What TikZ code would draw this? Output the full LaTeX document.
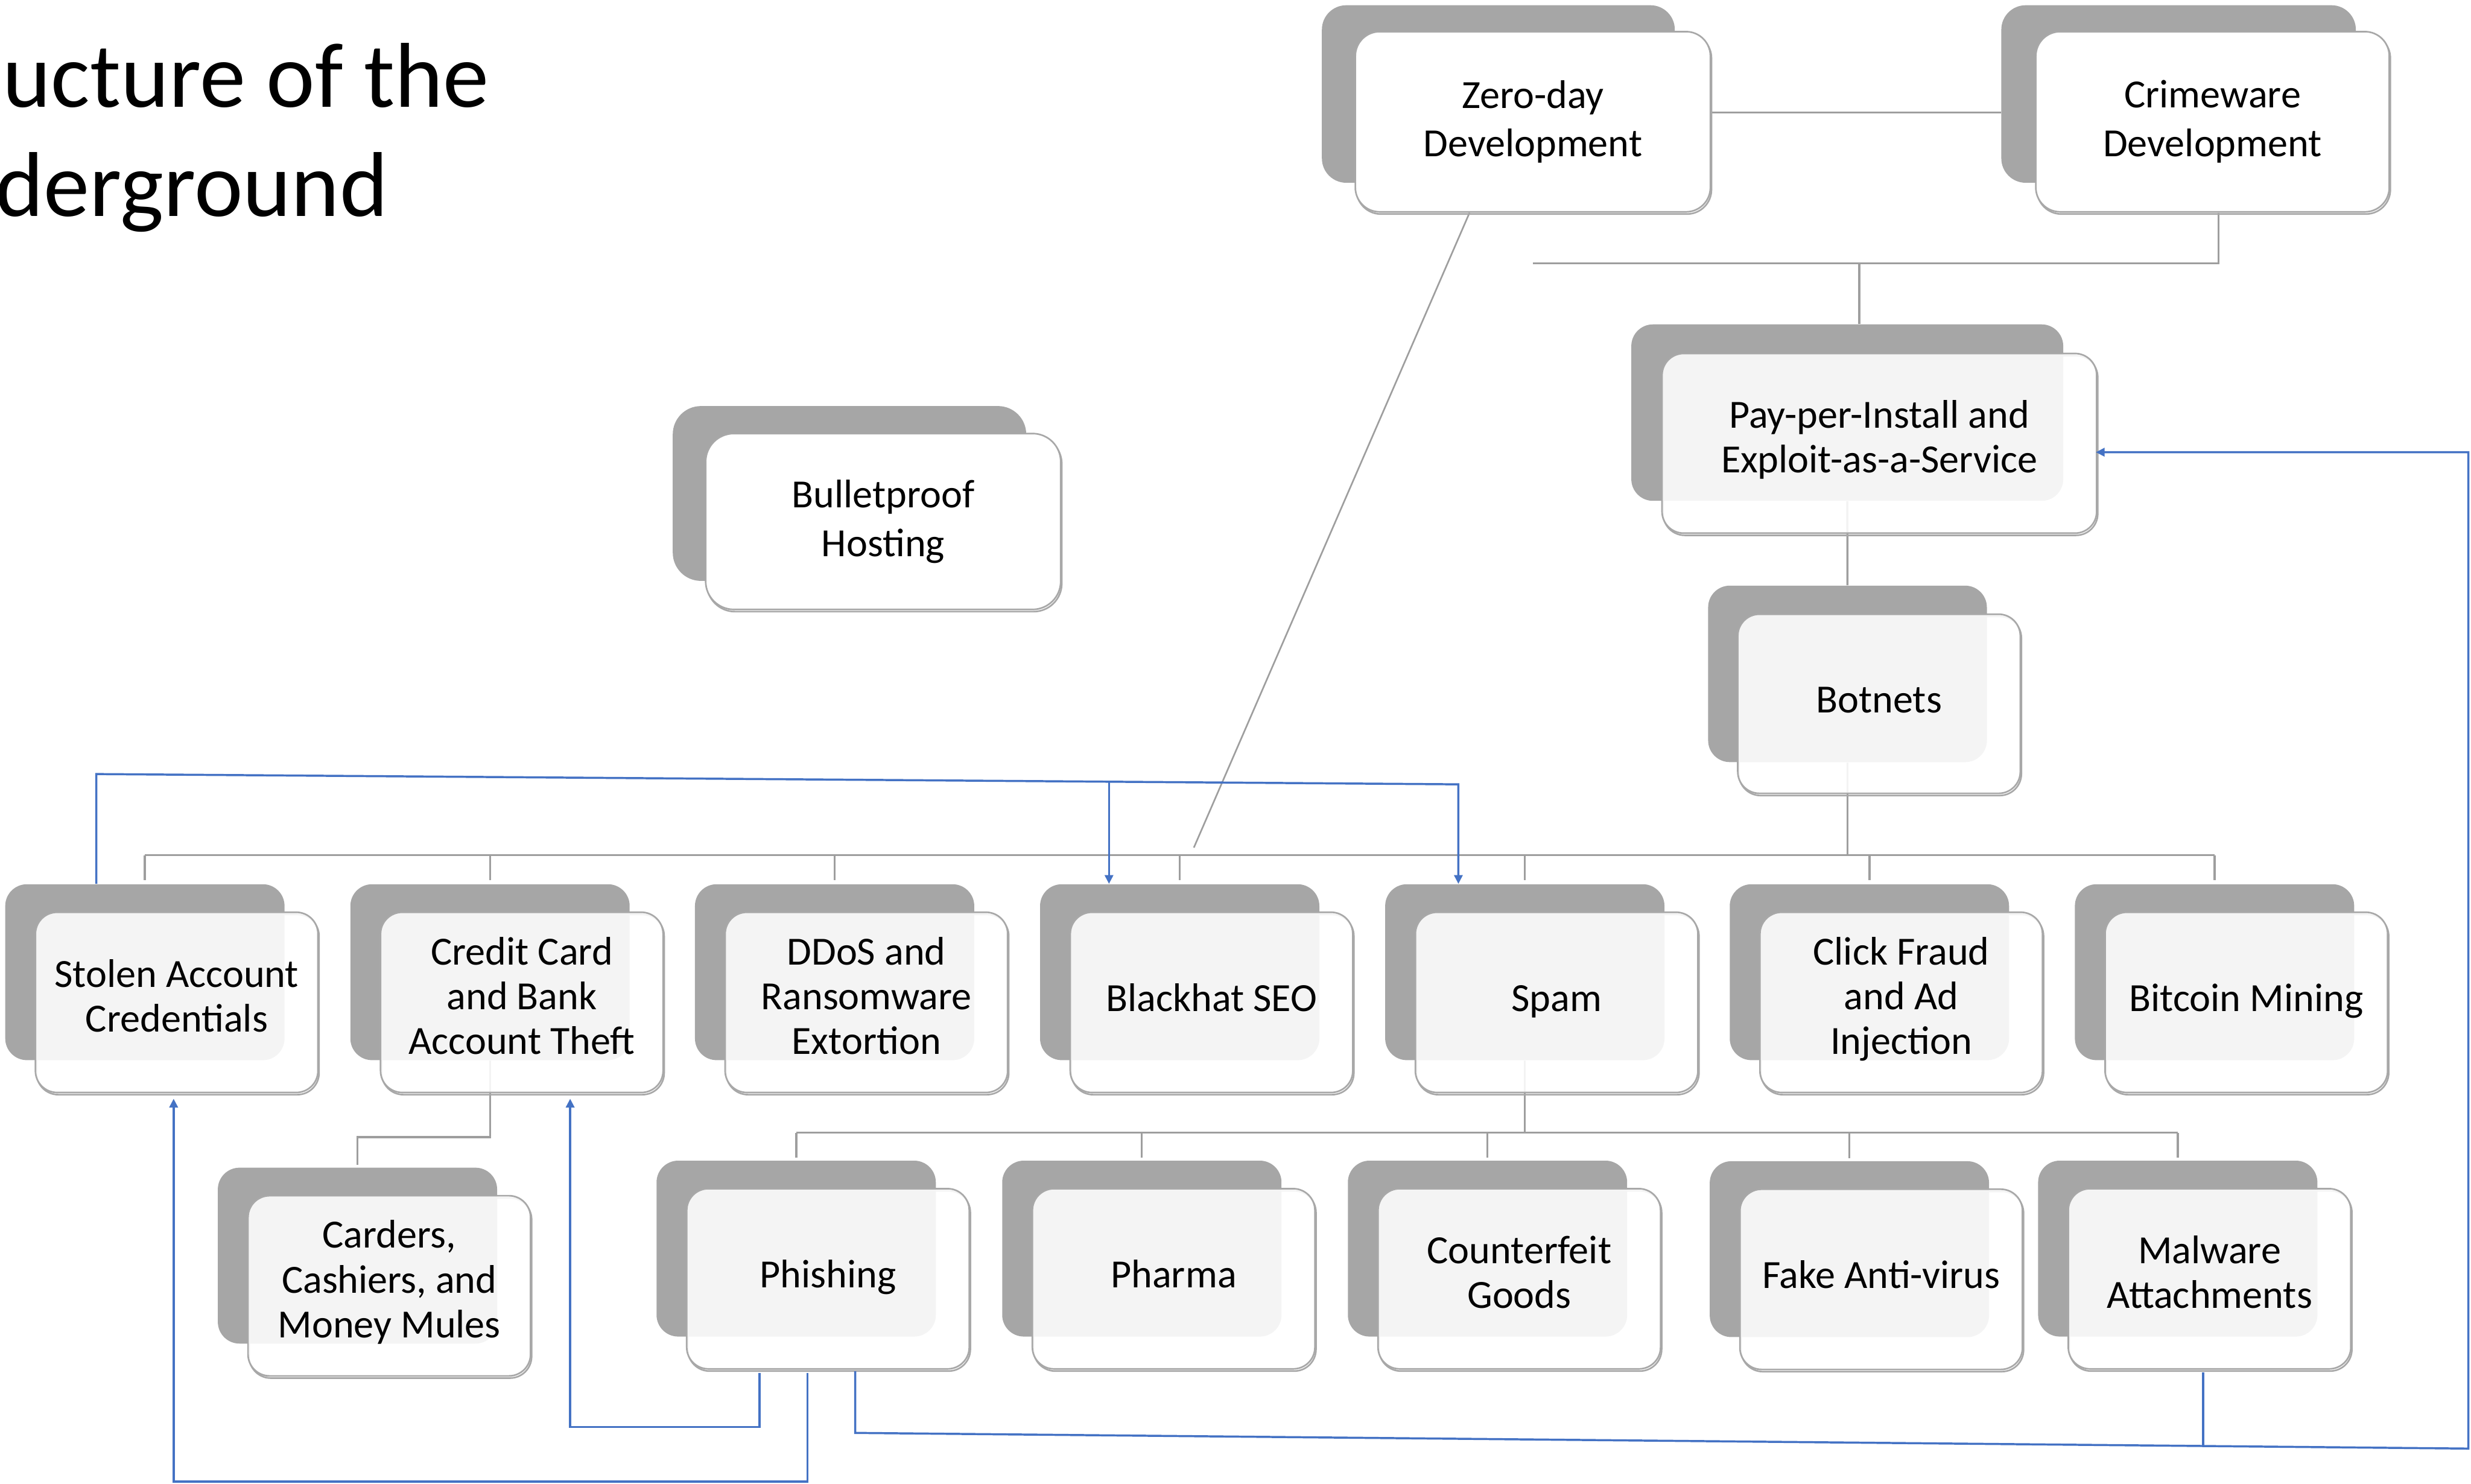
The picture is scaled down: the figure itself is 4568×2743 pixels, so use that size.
\documentclass[tikz,border=0pt]{standalone}
\usepackage{fontspec}
\setmainfont{Carlito}
\usetikzlibrary{calc,arrows.meta}

\definecolor{backgray}{HTML}{A6A6A6}
\definecolor{edgegray}{HTML}{A8A8A8}
\definecolor{conngray}{HTML}{9E9E9E}
\definecolor{linkblue}{HTML}{4472C4}

\pgfdeclarelayer{fore}
\pgfsetlayers{main,fore}

\newcommand\boxfont{\fontsize{21}{23.6}\selectfont}
\newcommand\topfont{\fontsize{21}{25.6}\selectfont}
\newcommand\titlefont{\fontsize{48.4}{57}\selectfont}

\tikzset{
  backbox/.style={fill=backgray, draw=none, rounded corners=0.4cm, anchor=north west,
    inner sep=0pt, minimum width=5.16cm, minimum height=3.25cm},
  cardbase/.style={draw=edgegray, line width=0.85pt, fill=white,
    text opacity=1, rounded corners=0.4cm, anchor=north west, inner sep=0pt,
    minimum width=5.22cm, minimum height=3.33cm, align=center},
  frontbox/.style={cardbase, fill opacity=0.88, font=\boxfont,
    execute at begin node=\strut, execute at end node=\strut},
  solidfront/.style={cardbase, fill opacity=1, font=\topfont},
  edgeshadow/.style={draw=edgegray, line width=0.85pt, rounded corners=0.4cm,
    anchor=north west, inner sep=0pt, minimum width=5.22cm, minimum height=3.33cm},
  tree/.style={draw=conngray, line width=1.1pt},
  link/.style={draw=linkblue, line width=1.1pt},
  tip/.style={-{Triangle[length=4.6pt,width=4.4pt]}},
}

% a grey card with a white card laid over it
\newcommand\cardpair[4]{%
  \node[backbox] (#1B) at (#2,#3) {};
  \begin{pgfonlayer}{fore}
    \node[edgeshadow] (#1S) at ($(#1B.north west)+(57,55)$) {};
    \node[frontbox] (#1) at ($(#1B.north west)+(55,51)$) {#4};
  \end{pgfonlayer}}

\begin{document}
\begin{tikzpicture}[x=0.01cm, y=-0.01cm]
\useasboundingbox (0,0) rectangle (4568,2743);

% heading
\node[anchor=base east, font=\titlefont, inner sep=0pt] (title1) at (905,198) {ucture of the};
\node[anchor=base east, font=\titlefont, inner sep=0pt] (title2) at (718,400) {derground};

% top cards
\node[backbox, minimum width=6.52cm, minimum height=3.28cm, rounded corners=0.45cm] (zdB) at (2443,9) {};
\node[backbox, minimum width=6.55cm, minimum height=3.28cm, rounded corners=0.45cm] (cwB) at (3699,9) {};
\node[backbox, minimum width=7.98cm, minimum height=3.26cm] (ppiB) at (3015,599) {};
\node[backbox, minimum width=5.15cm, minimum height=3.26cm] (botB) at (3157,1082) {};
\node[backbox, minimum width=6.53cm, minimum height=3.23cm, rounded corners=0.52cm] (bphB) at (1243,750) {};
\begin{pgfonlayer}{fore}
  \node[edgeshadow, minimum width=6.56cm, rounded corners=0.45cm] (zdS) at (2506,61) {};
  \node[solidfront, minimum width=6.56cm, rounded corners=0.45cm] (zd) at (2504,57) {Zero-day\\Development};
  \node[edgeshadow, minimum width=6.53cm, rounded corners=0.45cm] (cwS) at (3764,61) {};
  \node[solidfront, minimum width=6.53cm, rounded corners=0.45cm] (cw) at (3762,57) {Crimeware\\Development};
  \node[edgeshadow, minimum width=8.03cm, minimum height=3.32cm] (ppiS) at (3073,656) {};
  \node[frontbox, minimum width=8.03cm, minimum height=3.32cm] (ppi) at (3071,652) {Pay-per-Install and\\Exploit-as-a-Service};
  \node[edgeshadow, minimum height=3.31cm] (botS) at (3213,1138) {};
  \node[frontbox, minimum height=3.31cm] (bot) at (3211,1134) {Botnets};
  \node[edgeshadow, minimum width=6.56cm, minimum height=3.25cm, rounded corners=0.52cm] (bphS) at (1305,804) {};
  \node[solidfront, minimum width=6.56cm, minimum height=3.25cm, rounded corners=0.52cm] (bph) at (1303,800) {Bulletproof\\Hosting};
\end{pgfonlayer}

% services row
\cardpair{stolen}{9}{1634}{Stolen Account\\Credentials}
\cardpair{credit}{647}{1634}{Credit Card\\and Bank\\Account Theft}
\cardpair{ddos}{1284}{1634}{DDoS and\\Ransomware\\Extortion}
\cardpair{seo}{1922}{1634}{Blackhat SEO}
\cardpair{spam}{2560}{1634}{Spam}
\cardpair{click}{3197}{1634}{Click Fraud\\and Ad\\Injection}
\cardpair{bitcoin}{3835}{1634}{Bitcoin Mining}

% lower row
\cardpair{carders}{402}{2158}{Carders,\\Cashiers, and\\Money Mules}
\cardpair{phish}{1213}{2145}{Phishing}
\cardpair{pharma}{1852}{2145}{Pharma}
\cardpair{fakegoods}{2491}{2145}{Counterfeit\\Goods}
\cardpair{fakeav}{3160}{2146}{Fake Anti-virus}
\cardpair{malware}{3767}{2145}{Malware\\Attachments}

% grey hierarchy
\coordinate (zc) at (0,208);
\coordinate (br) at (0,487);
\coordinate (brd) at (3437,487);
\coordinate (cwd) at ($(cw.south)+(11,0)$);
\coordinate (bus) at (0,1581);
\coordinate (cb) at (0,2102);
\coordinate (sb) at (0,2094);
\coordinate (zs) at (2207,1567);

\draw[tree] (zd.east |- zc) -- (cwB.west |- zc);
\draw[tree] (cwd) -- (cwd |- br) -- (zd.south |- br);
\draw[tree] (brd) -- (brd |- ppiB.north);
\draw[tree] (ppiB.south) -- (botB.north);
\draw[tree] (botB.south) -- (botB.south |- bus);
\draw[tree] (stolenB.north |- bus) -- (bitcoinB.north |- bus);
\foreach \n in {stolen,credit,ddos,seo,spam,click,bitcoin}
  \draw[tree, shorten >=0.07cm] (\n B.north |- bus) -- (\n B.north);
\draw[tree, line width=0.85pt] ($(zd.south)+(-117,0)$) -- (zs);
\draw[tree, shorten >=0.05cm] (creditB.south) -- (creditB.south |- cb) -| (cardersB.north);
\draw[tree] (spamB.south) -- (spamB.south |- sb);
\draw[tree] (phishB.north |- sb) -- (malwareB.north |- sb);
\foreach \n in {phish,pharma,fakegoods,fakeav,malware}
  \draw[tree, shorten >=0.05cm] (\n B.north |- sb) -- (\n B.north);

% blue links
\coordinate (tl) at (178,1431);
\coordinate (tr) at (2696,1450);
\coordinate (tm) at ($(tl)!0.7435!(tr)$);
\coordinate (pc1) at (1404,2638);
\coordinate (pc2) at (1054,2638);
\coordinate (ps1) at (1493,2739);
\coordinate (ps2) at (321,2739);
\coordinate (pp1) at (1581,2649);
\coordinate (pp2) at (4563,2678);
\coordinate (pp3) at (4563,836);
\coordinate (mj) at ($(pp1)!0.8357!(pp2)$);

\begin{pgfonlayer}{fore}
  \draw[link, tip] (tl |- stolenB.north) -- (tl) -- (tr) -- (tr |- spamB.north);
  \draw[link, tip] (tm) -- (tm |- seoB.north);
  \draw[link, tip, shorten <=0.06cm, shorten >=0.1cm] (pc1 |- phish.south) -- (pc1) -- (pc2) -- (pc2 |- credit.south);
  \draw[link, tip, shorten <=0.06cm, shorten >=0.1cm] (ps1 |- phish.south) -- (ps1) -- (ps2) -- (ps2 |- stolen.south);
  \draw[link, tip, shorten <=0.03cm, shorten >=-0.03cm] (pp1 |- phish.south) -- (pp1) -- (pp2) -- (pp3) -- (pp3 -| ppi.east);
  \draw[link, shorten <=0.05cm] (mj |- malware.south) -- (mj);
\end{pgfonlayer}
\end{tikzpicture}
\end{document}
